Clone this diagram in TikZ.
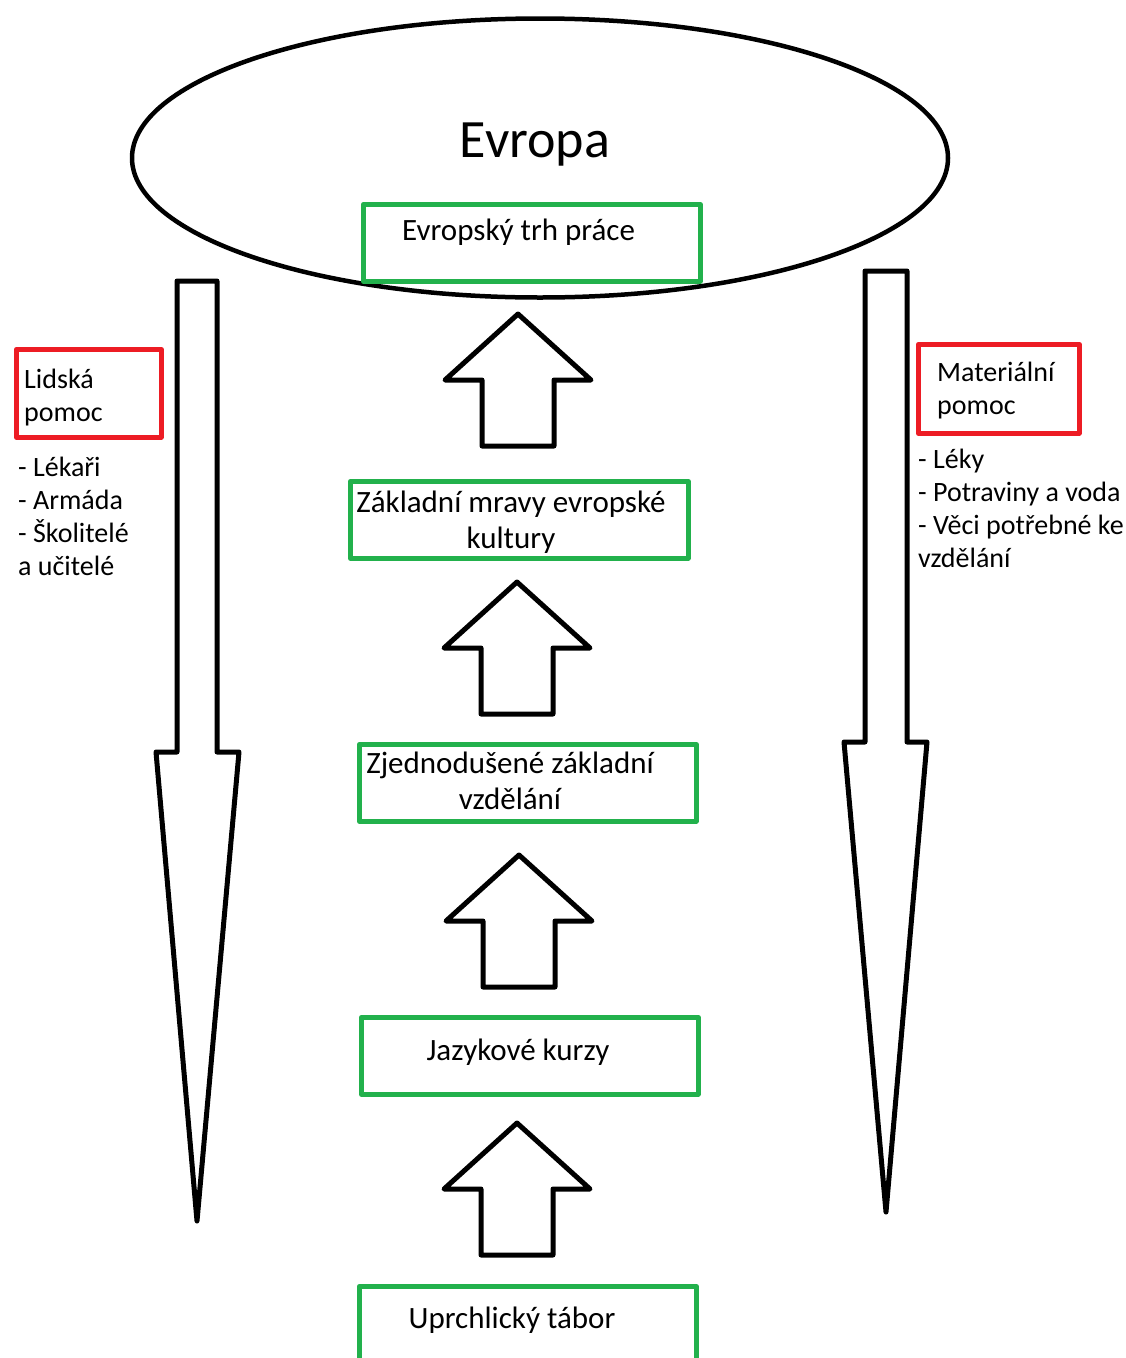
\documentclass[tikz,border=0pt]{standalone}
\usepackage{fontspec}
\setmainfont{Carlito}
\usepackage{tikz}
\usetikzlibrary{positioning,shapes.geometric}
\definecolor{boxgreen}{RGB}{34,177,76}
\definecolor{boxred}{RGB}{237,28,36}

\begin{document}
\begin{tikzpicture}[x=1pt,y=-1pt,line join=round,
		greenbox/.style={draw=boxgreen,line width=4.5,fill=white,minimum width=337,minimum height=77,inner sep=0,anchor=north west},
		redbox/.style={draw=boxred,line width=4.5,inner sep=0,anchor=north west},
		txt/.style={font=\fontsize{28}{33}\selectfont,inner sep=0},
		boxtxt/.style={font=\fontsize{31}{36}\selectfont,inner sep=0},
		bigarrow/.style={draw=black,line width=5,fill=white}]
			\path[use as bounding box,clip] (0,0) rectangle (1125,1358);
			\fill[white] (0,0) rectangle (1125,1358);
			
			\node[ellipse,draw=black,line width=4.5,minimum width=816,minimum height=279,inner sep=0] (evropa) at (540,158) {};
			\node[font=\fontsize{54}{60}\selectfont,inner sep=0,anchor=base] (evropalbl) at (535,157) {Evropa};
			
			\node[greenbox] (trh) at (361,202) {};
			\node[boxtxt,anchor=base west] (trhlbl) at (402,240) {Evropský trh práce};
			\node[greenbox,minimum width=338] (mravy) at (348,479) {};
			\node[boxtxt,align=center,anchor=base] (mravylbl) at (511,548) {Základní mravy evropské\\kultury};
			\node[greenbox] (zaklad) at (357,742) {};
			\node[boxtxt,align=center,anchor=base] (zakladlbl) at (510,809) {Zjednodušené základní\\vzdělání};
			\node[greenbox] (jazyk) at (359,1015) {};
			\node[boxtxt,anchor=base] (jazyklbl) at (518,1060) {Jazykové kurzy};
			\node[greenbox,minimum height=90] (tabor) at (357,1284) {};
			\node[boxtxt,anchor=base] (taborlbl) at (512,1328) {Uprchlický tábor};
			
			% up arrows between the boxes
			\foreach \ax/\ay in {518/314,517/582,519/855,517/1123}{%
				\draw[bigarrow] (\ax,\ay) -- ++(73,66) -- ++(-37,0) -- ++(0,66) -- ++(-72,0) -- ++(0,-66) -- ++(-37,0) -- cycle;
			}
			
			% down arrows
			\draw[bigarrow] (177,281) -- (217,281) -- (217,752) -- (239,752) -- (197,1221) -- (156,752) -- (177,752) -- cycle;
			\draw[bigarrow] (865,271) -- (907,271) -- (907,742) -- (927,742) -- (886,1212) -- (844,742) -- (865,742) -- cycle;
			
			\node[redbox,minimum width=145,minimum height=88] (lidska) at (14,347) {};
			\node[txt,align=left,anchor=base west] (lidskalbl) at (24,421) {Lidská\\pomoc};
			\node[txt,align=left,anchor=base west] (lidilist) at (18,575) {- Lékaři\\- Armáda\\- Školitelé\\a učitelé};
			
			\node[redbox,minimum width=161,minimum height=89] (material) at (916,342) {};
			\node[txt,align=left,anchor=base west] (materiallbl) at (937,414) {Materiální\\pomoc};
			\node[txt,align=left,anchor=base west] (materiallist) at (918,567) {- Léky\\- Potraviny a voda\\- Věci potřebné ke\\vzdělání};
		\end{tikzpicture}
\end{document}
